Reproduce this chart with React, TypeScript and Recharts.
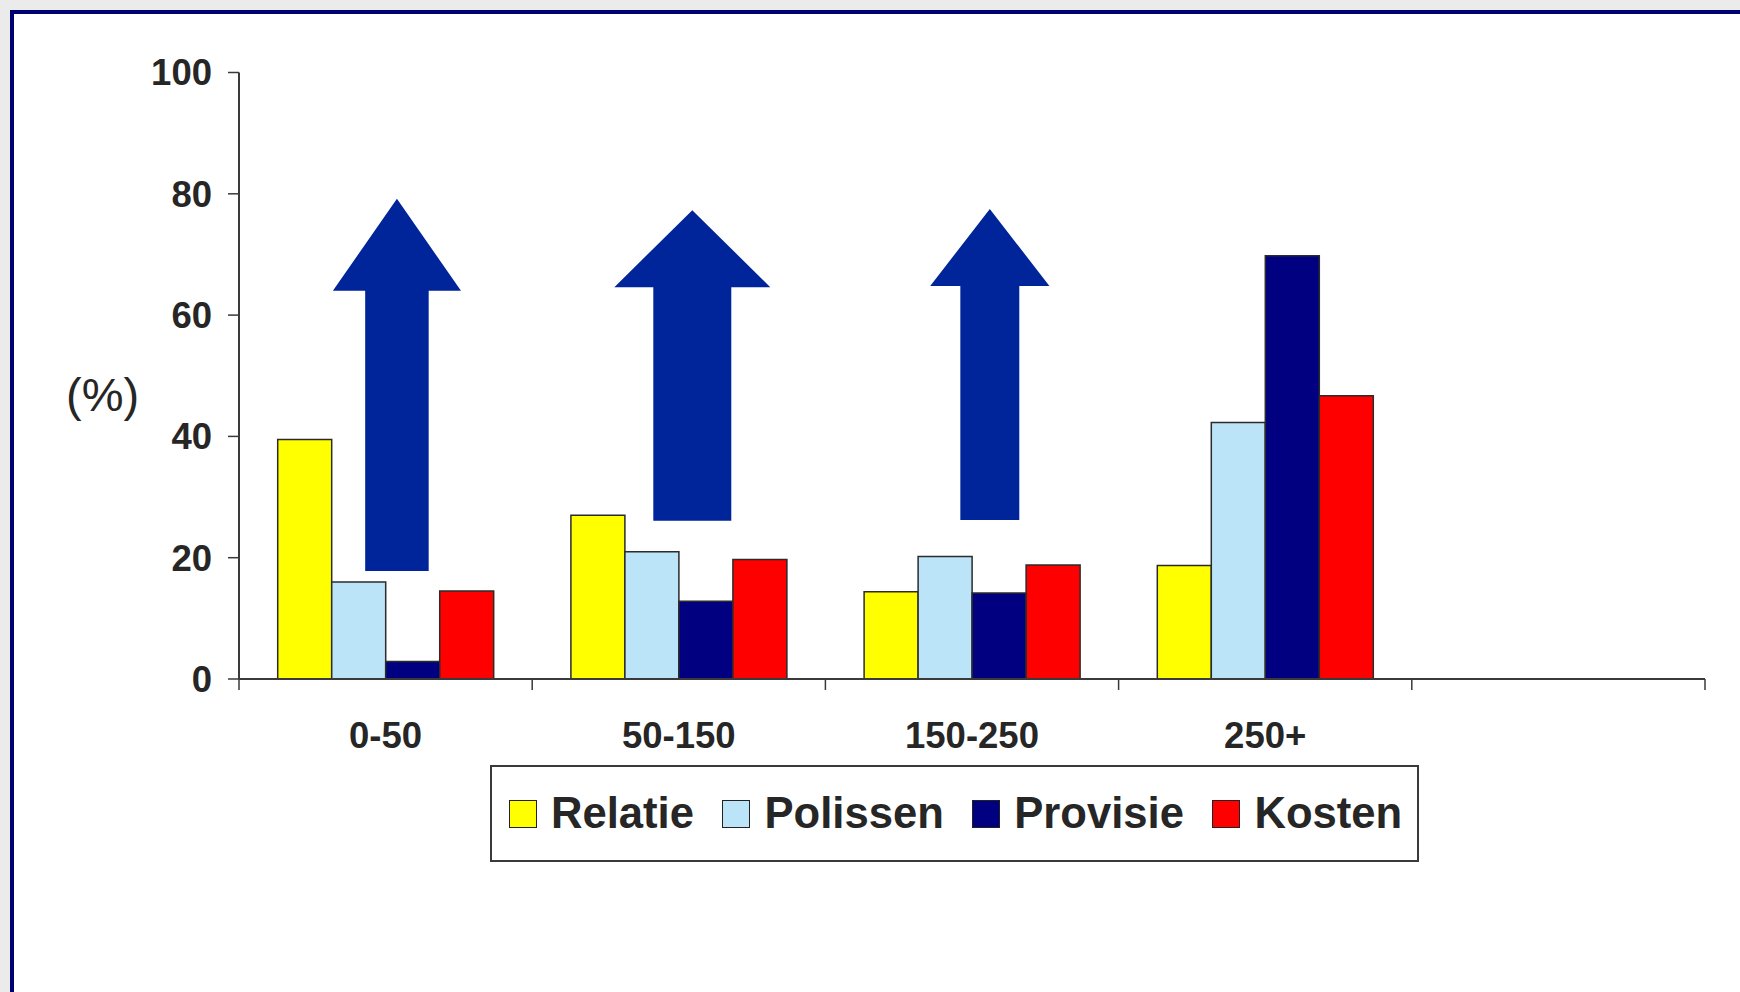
import React from 'react';
import { BarChart, Bar, XAxis, YAxis, Legend } from 'recharts';

// income classes (last slot is an empty category, as in the original sheet)
const categories = ['0-50', '50-150', '150-250', '250+', ''];
const relatie = [39.5, 27.0, 14.4, 18.7, null];
const polissen = [16.0, 21.0, 20.2, 42.3, null];
const provisie = [2.9, 12.8, 14.2, 69.8, null];
const kosten = [14.5, 19.7, 18.8, 46.7, null];
const yTicks = [0, 20, 40, 60, 80, 100];

// the three upward arrows, in % units: shaft bottom, head base, tip
const arrowBottom = [17.8, 26.1, 26.2, null, null];
const arrowNeck = [64.0, 64.6, 64.8, null, null];
const arrowTip = [79.2, 77.3, 77.5, null, null];

const series = [
  { key: 'Relatie', values: relatie, color: '#ffff00' },
  { key: 'Polissen', values: polissen, color: '#bbe4f8' },
  { key: 'Provisie', values: provisie, color: '#000080' },
  { key: 'Kosten', values: kosten, color: '#ff0000' },
];

const data = categories.map((name, i) => {
  const row: any = { name };
  series.forEach((s) => (row[s.key] = s.values[i]));
  row.arrow = arrowTip[i] != null ? [arrowBottom[i], arrowTip[i]] : null;
  row.neck = arrowNeck[i];
  return row;
});

// arrow outline relative to the width of a bar group
const arrowForm = [
  { shift: 0.052, head: 0.593, shaft: 0.294 },
  { shift: 0.062, head: 0.722, shaft: 0.361 },
  { shift: 0.082, head: 0.552, shaft: 0.273 },
];

const W = 1740;
const H = 992;
const margin = { top: 72.5, right: 35, bottom: 253, left: 0 };
const Y_AXIS_W = 239;
const FONT = '"Liberation Sans", Arial, Helvetica, sans-serif';
const INK = '#262626';
const LINE = '#3a3a3a';
const plotW = W - margin.left - margin.right - Y_AXIS_W;

const ArrowShape = (props: any) => {
  const { x, y, width, height, payload, index } = props;
  if (!payload || !payload.arrow || !arrowForm[index]) return null;
  const [lo, hi] = payload.arrow;
  const top = Math.min(y, y + height);
  const h = Math.abs(height);
  const neckY = top + (h * (hi - payload.neck)) / (hi - lo);
  const f = arrowForm[index];
  const cx = x + width / 2 + f.shift * width;
  const hw = (f.head * width) / 2;
  const sw = (f.shaft * width) / 2;
  const pts = [
    [cx, top],
    [cx + hw, neckY],
    [cx + sw, neckY],
    [cx + sw, top + h],
    [cx - sw, top + h],
    [cx - sw, neckY],
    [cx - hw, neckY],
  ]
    .map((p) => p.join(','))
    .join(' ');
  return <polygon points={pts} fill="#00259a" />;
};

const CategoryTick = (props: any) => {
  const { x, y, payload, index, visibleTicksCount } = props;
  const count = visibleTicksCount || categories.length;
  const half = (props.width || plotW) / count / 2;
  return (
    <g>
      <line x1={x - half} x2={x - half} y1={y} y2={y + 11} stroke={LINE} strokeWidth={1.5} />
      {index === count - 1 && (
        <line x1={x + half} x2={x + half} y1={y} y2={y + 11} stroke={LINE} strokeWidth={1.5} />
      )}
      <text
        x={x}
        y={y + 69}
        textAnchor="middle"
        fontFamily={FONT}
        fontSize={36.5}
        fontWeight="bold"
        fill={INK}
      >
        {payload.value}
      </text>
    </g>
  );
};

const LegendBox = () => (
  <div
    style={{
      boxSizing: 'border-box',
      width: '100%',
      height: '100%',
      border: `2px solid ${LINE}`,
      background: '#fff',
      display: 'flex',
      alignItems: 'center',
      paddingLeft: 17,
      fontFamily: FONT,
      fontWeight: 'bold',
      fontSize: 43.6,
      color: INK,
      whiteSpace: 'nowrap',
    }}
  >
    {series.map((s) => (
      <div key={s.key} style={{ display: 'flex', alignItems: 'center', marginRight: 28.5 }}>
        <span
          style={{
            boxSizing: 'border-box',
            width: 28,
            height: 28,
            background: s.color,
            border: '1.5px solid #222',
            marginRight: 14,
            display: 'inline-block',
          }}
        />
        <span style={{ lineHeight: 1 }}>{s.key}</span>
      </div>
    ))}
  </div>
);

export default function App() {
  return (
    <div
      style={{
        position: 'absolute',
        left: 0,
        top: 0,
        width: W,
        height: H,
        overflow: 'hidden',
        background: '#ebebeb',
      }}
    >
      <div
        style={{
          position: 'absolute',
          left: 10,
          top: 10,
          width: W + 100,
          height: H + 100,
          background: '#fff',
          border: '4px solid #000070',
        }}
      />
      <div style={{ position: 'absolute', left: 0, top: 0 }}>
        <BarChart
          width={W}
          height={H}
          data={data}
          margin={margin}
          barCategoryGap="13.2%"
          barGap={0}
        >
          <XAxis
            dataKey="name"
            type="category"
            height={60}
            tickLine={false}
            tickSize={0}
            tickMargin={0}
            axisLine={{ stroke: LINE, strokeWidth: 2 }}
            tick={<CategoryTick />}
            interval={0}
          />
          <XAxis dataKey="name" type="category" xAxisId="arrows" hide />
          <YAxis
            width={Y_AXIS_W}
            domain={[0, 100]}
            ticks={yTicks}
            interval={0}
            tickSize={11}
            tickMargin={16}
            axisLine={{ stroke: LINE, strokeWidth: 2 }}
            tickLine={{ stroke: LINE, strokeWidth: 1.5 }}
            tick={{ fontSize: 36.5, fontWeight: 'bold', fill: INK, fontFamily: FONT }}
            label={{
              value: '(%)',
              position: 'insideLeft',
              offset: 66,
              dy: 19,
              fontSize: 47,
              fill: INK,
              fontFamily: FONT,
            }}
          />
          <Legend
            layout="vertical"
            align="center"
            verticalAlign="middle"
            wrapperStyle={{ left: 490, top: 765, width: 929, height: 97 }}
            content={<LegendBox />}
          />
          {series.map((s) => (
            <Bar
              key={s.key}
              dataKey={s.key}
              fill={s.color}
              stroke="#2b2b2b"
              strokeWidth={1.5}
              isAnimationActive={false}
            />
          ))}
          <Bar
            dataKey="arrow"
            xAxisId="arrows"
            legendType="none"
            shape={<ArrowShape />}
            isAnimationActive={false}
          />
        </BarChart>
      </div>
    </div>
  );
}
